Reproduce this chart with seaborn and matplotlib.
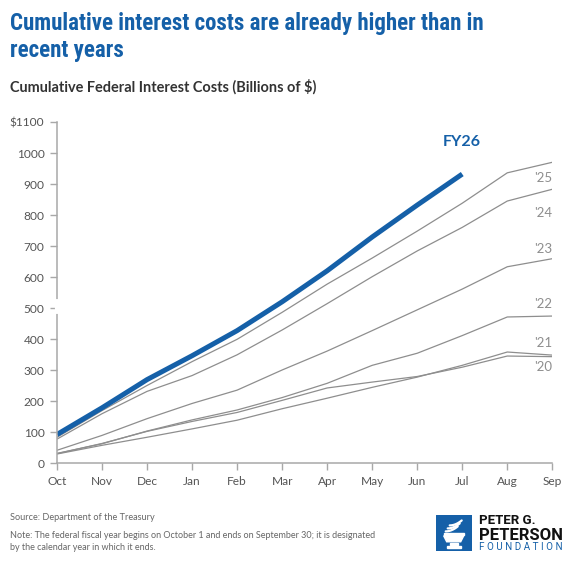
import numpy as np
import pandas as pd
import seaborn as sns
import matplotlib
matplotlib.use("Agg")
import matplotlib.pyplot as plt
from matplotlib import font_manager
from matplotlib.patches import Rectangle, Polygon

# cumulative federal interest costs, billions of $
months = ["Oct", "Nov", "Dec", "Jan", "Feb", "Mar", "Apr", "May", "Jun", "Jul", "Aug", "Sep"]
fy26 = [93, 179, 270, 347, 428, 521, 621, 730, 833, 933]
fy25 = [84, 170, 251, 328, 400, 487, 578, 662, 749, 839, 937, 971]
fy24 = [78, 160, 232, 283, 350, 430, 515, 602, 685, 761, 846, 884]
fy23 = [42, 90, 144, 193, 236, 301, 362, 428, 495, 562, 634, 660]
fy22 = [32, 63, 104, 140, 172, 212, 258, 316, 355, 412, 472, 475]
fy21 = [30, 58, 84, 111, 139, 176, 210, 245, 278, 316, 359, 349]
fy20 = [31, 64, 103, 135, 164, 203, 243, 262, 280, 310, 346, 344]

past_names = ["'25", "'24", "'23", "'22", "'21", "'20"]
past_series = [fy25, fy24, fy23, fy22, fy21, fy20]
label_y = [921, 808, 690, 514, 389, 310]   # where the year tags sit
yticks = list(range(0, 1101, 100))
ytick_labels = ["0"] + [str(v) for v in yticks[1:-1]] + ["$1100"]

BLUE = "#1560a8"
GRAY = "#8e8e8e"
AXIS = "#a8a8a8"
W, H = 572, 569

sns.set_theme(style="white")
plt.rcParams["font.family"] = ["Lato", "DejaVu Sans"]

# pick a condensed face for the headline if one is installed
installed = {f.name for f in font_manager.fontManager.ttflist}
cond_font = next((n for n in ["Roboto Condensed", "Barlow Semi Condensed", "Asap Condensed",
                              "Barlow Condensed", "Open Sans Condensed"] if n in installed), "Roboto")

rows = []
for name, vals in zip(["FY26"] + past_names, [fy26] + past_series):
    for i, v in enumerate(vals):
        rows.append({"month": i, "value": v, "year": name})
df = pd.DataFrame(rows)

fig = plt.figure(figsize=(W / 100, H / 100), dpi=100)
ax = fig.add_axes([57 / W, 1 - 463.3 / H, (552.3 - 57) / W, (463.3 - 122.3) / H])

sns.lineplot(data=df[df.year != "FY26"], x="month", y="value", units="year",
             estimator=None, color=GRAY, lw=0.9, ax=ax)
sns.lineplot(data=df[df.year == "FY26"], x="month", y="value",
             color=BLUE, lw=3.6, ax=ax, solid_capstyle="butt")

for name, yv in zip(past_names, label_y):
    ax.text(11, yv, name, ha="right", va="center", fontsize=9.5, color=GRAY)
ax.text(len(fy26) - 1, 1035, "FY26", ha="center", va="center",
        fontsize=11.5, fontweight="bold", color=BLUE)

ax.set_xlim(0, 11)
ax.set_ylim(0, 1100)
ax.set_xticks(range(len(months)), months)
ax.set_yticks(yticks, ytick_labels)
ax.set_xlabel("")
ax.set_ylabel("")
ax.tick_params(axis="both", length=5, width=1, color=AXIS, labelsize=8.6,
               labelcolor="#555555", pad=4, bottom=True, left=True)
for s in ["top", "right"]:
    ax.spines[s].set_visible(False)
for s in ["left", "bottom"]:
    ax.spines[s].set_color(AXIS)
    ax.spines[s].set_linewidth(1.1)
# small break in the y axis just above 500
ax.plot([0, 0], [488, 524], color="white", lw=3, clip_on=False, zorder=5)


def px(x, y):
    return x / W, 1 - y / H


def fit(t, target_px):
    r = fig.canvas.get_renderer()
    w = t.get_window_extent(renderer=r).width
    t.set_fontsize(t.get_fontsize() * target_px / w)


t1 = fig.text(*px(10, 30), "Cumulative interest costs are already higher than in",
              fontsize=18, fontweight="bold", color=BLUE, family=[cond_font, "DejaVu Sans"])
fit(t1, 472)
t2 = fig.text(*px(10, 57), "recent years", fontsize=t1.get_fontsize(),
              fontweight="bold", color=BLUE, family=[cond_font, "DejaVu Sans"])
st = fig.text(*px(10, 91.5), "Cumulative Federal Interest Costs (Billions of $)",
              fontsize=10, fontweight="bold", color="#333333")
fit(st, 308)

fig.text(*px(10, 519.5), "Source: Department of the Treasury", fontsize=6.6, color="#666666")
nt = fig.text(*px(10, 537.5), "Note: The federal fiscal year begins on October 1 and ends on September 30; it is designated",
              fontsize=6.6, color="#666666")
fit(nt, 363)
fig.text(*px(10, 550), "by the calendar year in which it ends.", fontsize=nt.get_fontsize(), color="#666666")

# logo
lax = fig.add_axes([435.7 / W, 1 - 550.7 / H, 36 / W, 35.7 / H])
lax.set_xlim(0, 36)
lax.set_ylim(0, 36)
lax.axis("off")
lax.add_patch(Rectangle((0, 0), 36, 36, color=BLUE))
lax.add_patch(Polygon([(8, 15), (28, 15), (25, 9), (11, 9)], color="white"))
lax.add_patch(Rectangle((14, 5.5), 8, 2.3, color="white"))
lax.add_patch(Rectangle((11, 2.5), 14, 2.2, color="white"))
lax.add_patch(Rectangle((8, 16.2), 20, 1.8, color="white"))
for k in range(3):
    xs = np.linspace(0, 1, 20)
    lax.plot(10 + 12 * xs + 2 * k, 19.5 + 3 * k + 5 * xs ** 2, color="white", lw=1.6, solid_capstyle="round")

fig.text(*px(479, 524), "PETER G.", fontsize=9.5, fontweight="bold", color="#111111", family=["Roboto", "DejaVu Sans"])
pt = fig.text(*px(479, 540.5), "PETERSON", fontsize=13, fontweight="bold", color="#111111", family=["Roboto", "DejaVu Sans"])
fit(pt, 83)
ft = fig.text(*px(479, 550.5), "F O U N D A T I O N", fontsize=5.5, color=BLUE, family=["Roboto", "DejaVu Sans"])
fit(ft, 83)

fig.savefig("out.png", dpi=100)
